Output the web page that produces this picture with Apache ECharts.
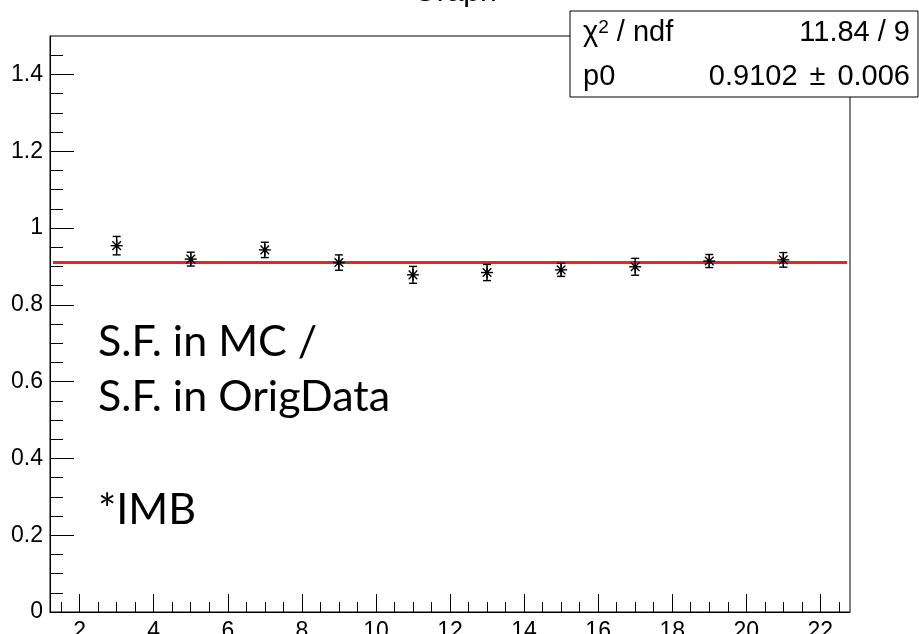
<!DOCTYPE html>
<html><head><meta charset="utf-8">
<script src="https://cdn.jsdelivr.net/npm/echarts@6/dist/echarts.min.js"></script>
<style>html,body{margin:0;padding:0;background:#fff}#c{width:919px;height:634px}</style>
</head><body><div id="c"></div>
<script>
// ---- data ----
const xValues = [3, 5, 7, 9, 11, 13, 15, 17, 19, 21];
const yValues = [0.954, 0.919, 0.943, 0.910, 0.878, 0.884, 0.891, 0.899, 0.914, 0.917];
const yErrors = [0.024, 0.018, 0.020, 0.020, 0.022, 0.021, 0.017, 0.022, 0.017, 0.019];
const fitP0 = 0.9102;
const fitXRange = [1.28, 22.72];
const xMajorTicks = [2, 4, 6, 8, 10, 12, 14, 16, 18, 20, 22];
const xMinorTicks = [1.5, 2.5, 3, 3.5, 4.5, 5, 5.5, 6.5, 7, 7.5, 8.5, 9, 9.5, 10.5, 11, 11.5, 12.5, 13, 13.5, 14.5, 15, 15.5, 16.5, 17, 17.5, 18.5, 19, 19.5, 20.5, 21, 21.5, 22.5];
const yMajorTicks = [0, 0.2, 0.4, 0.6, 0.8, 1, 1.2, 1.4];
const yMinorTicks = [0.05, 0.1, 0.15, 0.25, 0.3, 0.35, 0.45, 0.5, 0.55, 0.65, 0.7, 0.75, 0.85, 0.9, 0.95, 1.05, 1.1, 1.15, 1.25, 1.3, 1.35, 1.45];
const titleText = 'Graph';
const statsLabels = ['χ', '2', ' / ndf', 'p0'];
const statsChi2 = '11.84 / 9';
const statsP0 = ['0.9102', '±', '0.006'];
const noteLines = ['S.F. in MC /', 'S.F. in OrigData', '*IMB'];

// ---- chart ----
const chart = echarts.init(document.getElementById('c'), null, {renderer: 'canvas'});
const AX = 'Liberation Sans, Arial, sans-serif';
const NOTE = '43px Lato, "Open Sans", sans-serif';
const xRange = [1.2, 22.8], yRange = [0, 1.5];

function xAxisBase(extra) {
  return Object.assign({
    type: 'value', gridIndex: 0, min: xRange[0], max: xRange[1], position: 'bottom', offset: 0,
    splitLine: {show: false}, axisLine: {show: false}, axisLabel: {show: false}
  }, extra);
}
function yAxisBase(extra) {
  return Object.assign({
    type: 'value', gridIndex: 0, min: yRange[0], max: yRange[1], position: 'left', offset: 0,
    splitLine: {show: false}, axisLine: {show: false}, axisLabel: {show: false}
  }, extra);
}

const option = {
  animation: false,
  backgroundColor: '#fff',
  grid: {left: 50, top: 36, right: 69, bottom: 22, show: true, borderColor: '#000', borderWidth: 1,
         containLabel: false, outerBoundsMode: 'none'},
  xAxis: [
    xAxisBase({
      axisLine: {show: true, onZero: false, lineStyle: {color: '#000', width: 1}},
      axisTick: {show: true, inside: true, length: 18, customValues: xMajorTicks, lineStyle: {color: '#000', width: 1}},
      axisLabel: {show: true, customValues: xMajorTicks, margin: 8, color: '#000', fontFamily: AX, fontSize: 23}
    }),
    xAxisBase({
      axisTick: {show: true, inside: true, length: 10, customValues: xMinorTicks, lineStyle: {color: '#000', width: 1}}
    })
  ],
  yAxis: [
    yAxisBase({
      axisLine: {show: true, onZero: false, lineStyle: {color: '#000', width: 1}},
      axisTick: {show: true, inside: true, length: 24, customValues: yMajorTicks, lineStyle: {color: '#000', width: 1}},
      axisLabel: {show: true, customValues: yMajorTicks, margin: 7, color: '#000', fontFamily: AX, fontSize: 23,
                  formatter: v => String(v)}
    }),
    yAxisBase({
      axisTick: {show: true, inside: true, length: 13, customValues: yMinorTicks, lineStyle: {color: '#000', width: 1}}
    })
  ],
  series: [
    {
      type: 'line', xAxisIndex: 0, yAxisIndex: 0, symbol: 'none', silent: true,
      data: fitXRange.map(x => [x, fitP0]),
      lineStyle: {color: '#ee2419', width: 3}, z: 3
    },
    {
      type: 'custom', xAxisIndex: 0, yAxisIndex: 0, z: 5,
      data: xValues.map((x, i) => [x, yValues[i], yErrors[i]]),
      renderItem: function (params, api) {
        const x = api.value(0), y = api.value(1), e = api.value(2);
        const c = api.coord([x, y]);
        const hi = api.coord([x, y + e]);
        const lo = api.coord([x, y - e]);
        const cap = 4, r = 6, d = 4.3;
        const st = {stroke: '#000', lineWidth: 1.4};
        const L = (x1, y1, x2, y2) => ({type: 'line', shape: {x1, y1, x2, y2}, style: st});
        return {type: 'group', children: [
          L(c[0], hi[1], c[0], lo[1]),
          L(c[0] - cap, hi[1], c[0] + cap, hi[1]),
          L(c[0] - cap, lo[1], c[0] + cap, lo[1]),
          L(c[0], c[1] - r, c[0], c[1] + r),
          L(c[0] - r, c[1], c[0] + r, c[1]),
          L(c[0] - d, c[1] - d, c[0] + d, c[1] + d),
          L(c[0] - d, c[1] + d, c[0] + d, c[1] - d),
          {type: 'circle', shape: {cx: c[0], cy: c[1], r: 2}, style: {fill: '#000'}}
        ]};
      }
    }
  ],
  graphic: [
    {type: 'text', x: 455, y: -7.5, z: 50,
     style: {text: titleText, font: '30px ' + AX, fill: '#000', align: 'center', verticalAlign: 'middle'}},
    {type: 'rect', z: 100, shape: {x: 570, y: 11, width: 348, height: 86},
     style: {fill: '#fff', stroke: '#000', lineWidth: 1}},
    {type: 'text', z: 101, x: 583, y: 33,
     style: {text: '{a|' + statsLabels[0] + '}{s|' + statsLabels[1] + '}{a|' + statsLabels[2] + '}',
             verticalAlign: 'middle', align: 'left',
             rich: {a: {font: '29px ' + AX, fill: '#000'}, s: {font: '19px ' + AX, fill: '#000', verticalAlign: 'top', padding: [0, 0, 8, 0]}}}},
    {type: 'text', z: 101, x: 910, y: 33,
     style: {text: statsChi2, font: '29px ' + AX, fill: '#000', align: 'right', verticalAlign: 'middle'}},
    {type: 'text', z: 101, x: 583, y: 77,
     style: {text: statsLabels[3], font: '29px ' + AX, fill: '#000', align: 'left', verticalAlign: 'middle'}},
    {type: 'text', z: 101, x: 910, y: 77,
     style: {text: '{n|' + statsP0[0] + '}{pm|' + statsP0[1] + '}{n|' + statsP0[2] + '}',
             align: 'right', verticalAlign: 'middle',
             rich: {n: {font: '29px ' + AX, fill: '#000'}, pm: {font: '29px ' + AX, fill: '#000', padding: [0, 12, 0, 12]}}}},
    {type: 'text', z: 60, x: 98, y: 342,
     style: {text: noteLines[0], font: NOTE, fill: '#000', verticalAlign: 'middle'}},
    {type: 'text', z: 60, x: 98, y: 397,
     style: {text: noteLines[1], font: NOTE, fill: '#000', verticalAlign: 'middle'}},
    {type: 'text', z: 60, x: 98, y: 510,
     style: {text: noteLines[2], font: NOTE, fill: '#000', verticalAlign: 'middle'}}
  ]
};
chart.setOption(option);
</script>
</body></html>
